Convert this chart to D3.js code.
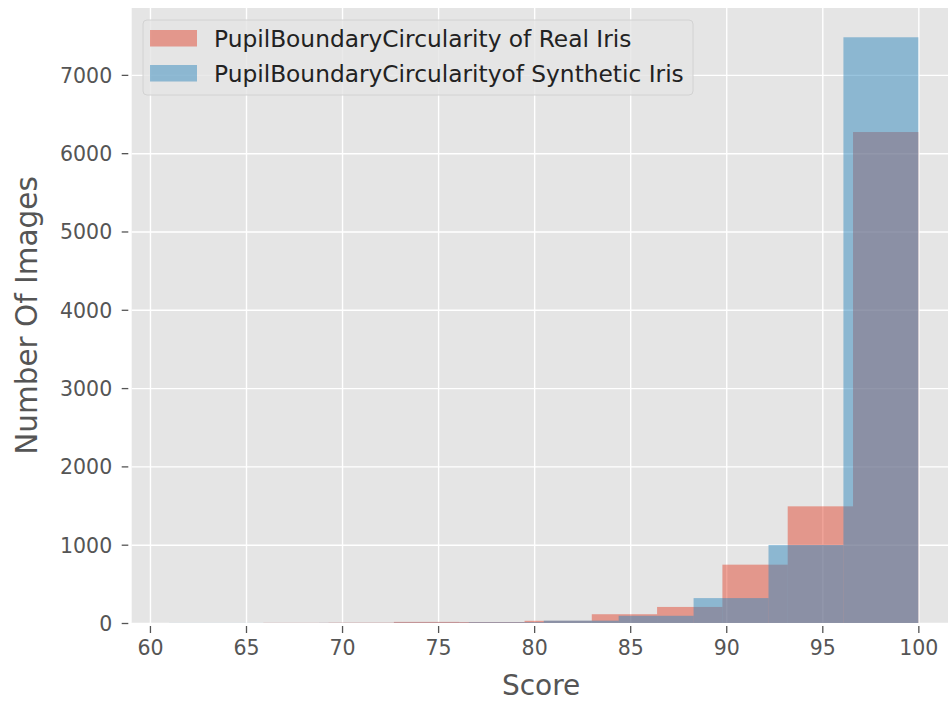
<!DOCTYPE html>
<html>
<head>
<meta charset="utf-8">
<script src="https://cdn.jsdelivr.net/npm/d3@7"></script>
<style>
  html, body { margin: 0; padding: 0; background: #fff; }
  svg { display: block; font-family: 'DejaVu Sans', sans-serif; }
</style>
</head>
<body>
<script>
// histogram bins (edges + counts)
const realEdges = [65.9, 69.3, 72.7, 76.1, 79.5, 83.0, 86.4, 89.8, 93.2, 96.6, 100];
const realCounts = [2, 4, 14, 12, 28, 112, 205, 745, 1490, 6270];
const synthEdges = [61.0, 64.9, 68.8, 72.7, 76.6, 80.5, 84.4, 88.3, 92.2, 96.1, 100];
const synthCounts = [1, 1, 2, 5, 10, 30, 92, 318, 996, 7480];

const xTicks = [60, 65, 70, 75, 80, 85, 90, 95, 100];
const yTicks = [0, 1000, 2000, 3000, 4000, 5000, 6000, 7000];
const seriesLabels = ['PupilBoundaryCircularity of Real Iris', 'PupilBoundaryCircularityof Synthetic Iris'];
const seriesColours = ['#E24A33', '#348ABD'];

const chartWidth = 948;
const chartHeight = 703;

const margin = { top: 8, left: 131.7, right: 955.8, bottom: 623 };

const xDomain = [59.05, 101.95];
const yDomain = [0, 7854];

const svg = d3.select('body').append('svg')
    .attr('width', chartWidth)
    .attr('height', chartHeight);

const xScale = d3.scaleLinear().domain(xDomain).range([margin.left, margin.right]);
const yScale = d3.scaleLinear().domain(yDomain).range([margin.bottom, margin.top]);

// plot background
svg.append('rect')
    .attr('x', margin.left)
    .attr('y', margin.top)
    .attr('width', margin.right - margin.left)
    .attr('height', margin.bottom - margin.top)
    .attr('fill', '#E5E5E5');

// grid
svg.append('g')
    .attr('transform', `translate(0,${margin.bottom})`)
    .call(d3.axisBottom(xScale).tickValues(xTicks).tickSize(-(margin.bottom - margin.top)).tickFormat(''))
    .call(g => g.select('.domain').remove())
    .call(g => g.selectAll('line').attr('stroke', '#fff').attr('stroke-width', 1.4));

svg.append('g')
    .attr('transform', `translate(${margin.left},0)`)
    .call(d3.axisLeft(yScale).tickValues(yTicks).tickSize(-(margin.right - margin.left)).tickFormat(''))
    .call(g => g.select('.domain').remove())
    .call(g => g.selectAll('line').attr('stroke', '#fff').attr('stroke-width', 1.4));

// bars
function drawHist(edges, counts, colour) {
  const bins = counts.map((c, i) => ({ x0: edges[i], x1: edges[i + 1], n: c }));
  svg.append('g')
    .selectAll('rect')
    .data(bins)
    .enter().append('rect')
      .attr('x', d => xScale(d.x0))
      .attr('width', d => xScale(d.x1) - xScale(d.x0))
      .attr('y', d => yScale(d.n))
      .attr('height', d => yScale(0) - yScale(d.n))
      .attr('fill', colour)
      .attr('fill-opacity', 0.5);
}
drawHist(realEdges, realCounts, seriesColours[0]);
drawHist(synthEdges, synthCounts, seriesColours[1]);

// axes (ticks + labels)
const tickColour = '#555555';

svg.append('g')
    .attr('transform', `translate(0,${margin.bottom + 3})`)
    .call(d3.axisBottom(xScale).tickValues(xTicks).tickSize(7).tickPadding(0))
    .call(g => g.select('.domain').remove())
    .call(g => g.selectAll('line').attr('stroke', tickColour).attr('stroke-width', 1.3))
    .call(g => g.selectAll('text')
        .attr('y', 29).attr('dy', null)
        .attr('fill', tickColour)
        .attr('font-size', 20.5)
        .attr('font-family', 'DejaVu Sans'));

svg.append('g')
    .attr('transform', `translate(${margin.left - 3.4},0)`)
    .call(d3.axisLeft(yScale).tickValues(yTicks).tickSize(6.6).tickPadding(9.5).tickFormat(d3.format('d')))
    .call(g => g.select('.domain').remove())
    .call(g => g.selectAll('line').attr('stroke', tickColour).attr('stroke-width', 1.3))
    .call(g => g.selectAll('text')
        .attr('dy', '0.36em')
        .attr('fill', tickColour)
        .attr('font-size', 20.5)
        .attr('font-family', 'DejaVu Sans'));

// axis titles
svg.append('text')
    .attr('x', (xScale(60) + xScale(100)) / 2 + 7)
    .attr('y', 695)
    .attr('text-anchor', 'middle')
    .attr('font-size', 28)
    .attr('fill', tickColour)
    .text('Score');

svg.append('text')
    .attr('transform', `translate(37,${(margin.top + margin.bottom) / 2}) rotate(-90)`)
    .attr('text-anchor', 'middle')
    .attr('font-size', 29.5)
    .attr('fill', tickColour)
    .text('Number Of Images');

// legend
const legend = svg.append('g').attr('transform', 'translate(143,20)');

legend.append('rect')
    .attr('width', 550)
    .attr('height', 75)
    .attr('rx', 4)
    .attr('fill', '#E5E5E5')
    .attr('fill-opacity', 0.8)
    .attr('stroke', '#D2D2D2')
    .attr('stroke-width', 1);

const keyItems = legend.selectAll('g.key')
    .data(seriesLabels)
  .enter().append('g')
    .attr('class', 'key')
    .attr('transform', (d, i) => `translate(0,${i * 35})`);

keyItems.append('rect')
    .attr('x', 7)
    .attr('y', 10)
    .attr('width', 47)
    .attr('height', 16.5)
    .attr('fill', (d, i) => seriesColours[i])
    .attr('fill-opacity', 0.5);

keyItems.append('text')
    .attr('x', 71)
    .attr('y', 26.5)
    .attr('font-size', 23.3)
    .attr('fill', '#222')
    .text(d => d);
</script>
</body>
</html>
